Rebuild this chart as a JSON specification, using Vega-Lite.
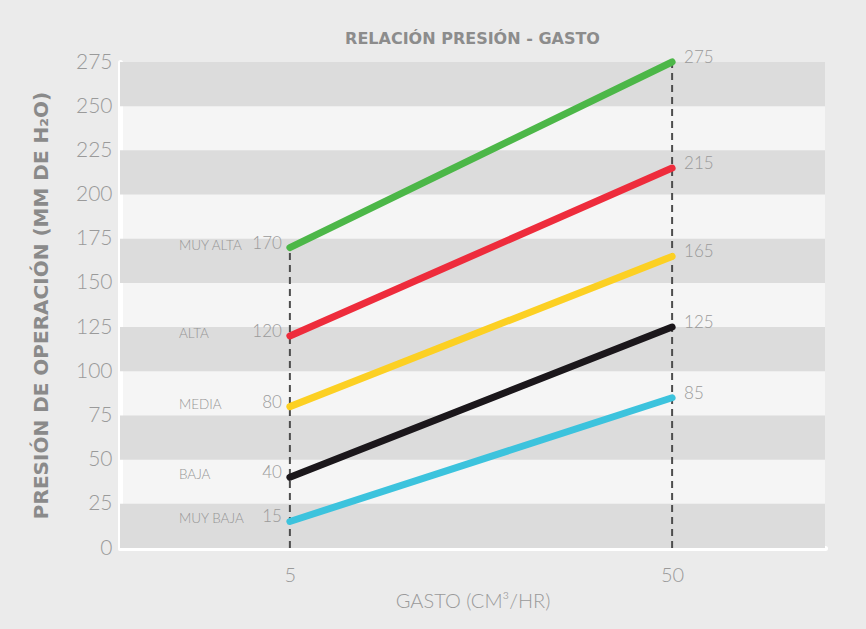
{
  "$schema": "https://vega.github.io/schema/vega-lite/v6.json",
  "width": 705,
  "height": 486,
  "autosize": {"type": "none"},
  "padding": {"left": 120, "top": 62, "right": 41, "bottom": 81},
  "background": "#ebebeb",
  "title": {"text": "RELACIÓN PRESIÓN - GASTO", "fontSize": 16, "fontWeight": "bold", "color": "#8c8c8c", "font": "DejaVu Sans", "anchor": "middle", "offset": 1},
  "config": {
    "view": {"stroke": null, "fill": "#f5f5f5"},
    "axis": {"grid": false, "ticks": false, "domainColor": "#ffffff", "domainWidth": 5, "domainCap": "round", "labelFont": "Lato", "labelFontWeight": 300, "labelColor": "#9a9a9a", "titleColor": "#8a8a8a"}
  },
  "datasets": {
    "bandas": [
      {"desde": 0, "hasta": 25},
      {"desde": 50, "hasta": 75},
      {"desde": 100, "hasta": 125},
      {"desde": 150, "hasta": 175},
      {"desde": 200, "hasta": 225},
      {"desde": 250, "hasta": 275}
    ],
    "guias": [
      {"gasto": 5, "base": 0, "tope": 170},
      {"gasto": 50, "base": 0, "tope": 277}
    ],
    "series": [
      {"serie": "MUY ALTA", "gasto": 5, "presion": 170},
      {"serie": "MUY ALTA", "gasto": 50, "presion": 275},
      {"serie": "ALTA", "gasto": 5, "presion": 120},
      {"serie": "ALTA", "gasto": 50, "presion": 215},
      {"serie": "MEDIA", "gasto": 5, "presion": 80},
      {"serie": "MEDIA", "gasto": 50, "presion": 165},
      {"serie": "BAJA", "gasto": 5, "presion": 40},
      {"serie": "BAJA", "gasto": 50, "presion": 125},
      {"serie": "MUY BAJA", "gasto": 5, "presion": 15},
      {"serie": "MUY BAJA", "gasto": 50, "presion": 85}
    ]
  },
  "layer": [
    {
      "data": {"name": "bandas"},
      "mark": {"type": "rect", "color": "#dcdcdc"},
      "encoding": {
        "y": {"field": "desde", "type": "quantitative"},
        "y2": {"field": "hasta"}
      }
    },
    {
      "data": {"name": "guias"},
      "mark": {"type": "rule", "color": "#4d4d4d", "strokeWidth": 2, "strokeDash": [7, 5]},
      "encoding": {
        "x": {"field": "gasto", "type": "quantitative"},
        "y": {"field": "base", "type": "quantitative"},
        "y2": {"field": "tope"}
      }
    },
    {
      "data": {"name": "series"},
      "mark": {"type": "line", "strokeWidth": 7, "strokeCap": "round"},
      "encoding": {
        "x": {
          "field": "gasto", "type": "quantitative",
          "scale": {"domain": [-15, 68], "nice": false, "zero": false},
          "axis": {"values": [5, 50], "labelFontSize": 20, "labelPadding": 17, "title": "GASTO (CM³/HR)", "titleFont": "Lato", "titleFontWeight": 300, "titleFontSize": 20, "titleColor": "#9a9a9a", "titlePadding": 6}
        },
        "y": {
          "field": "presion", "type": "quantitative",
          "scale": {"domain": [0, 275], "nice": false},
          "axis": {"values": [0, 25, 50, 75, 100, 125, 150, 175, 200, 225, 250, 275], "labelFontSize": 21, "labelPadding": 8, "title": "PRESIÓN DE OPERACIÓN (MM DE H₂O)", "titleFont": "DejaVu Sans", "titleFontWeight": "bold", "titleFontSize": 20, "titlePadding": 24}
        },
        "color": {
          "field": "serie", "type": "nominal", "legend": null,
          "scale": {"domain": ["MUY ALTA", "ALTA", "MEDIA", "BAJA", "MUY BAJA"], "range": ["#4cb748", "#ee2c3c", "#fcd023", "#1b171b", "#3cc3dd"]}
        }
      }
    },
    {
      "data": {"name": "series"},
      "transform": [{"filter": "datum.gasto == 5"}],
      "mark": {"type": "text", "align": "left", "baseline": "middle", "dx": -111, "dy": -2, "font": "Lato", "fontWeight": 300, "fontSize": 13.5, "color": "#959595"},
      "encoding": {
        "x": {"field": "gasto", "type": "quantitative"},
        "y": {"field": "presion", "type": "quantitative"},
        "text": {"field": "serie"}
      }
    },
    {
      "data": {"name": "series"},
      "transform": [{"filter": "datum.gasto == 5"}],
      "mark": {"type": "text", "align": "right", "baseline": "middle", "dx": -8, "dy": -4, "font": "Lato", "fontWeight": 300, "fontSize": 17, "color": "#9a9a9a"},
      "encoding": {
        "x": {"field": "gasto", "type": "quantitative"},
        "y": {"field": "presion", "type": "quantitative"},
        "text": {"field": "presion"}
      }
    },
    {
      "data": {"name": "series"},
      "transform": [{"filter": "datum.gasto == 50"}],
      "mark": {"type": "text", "align": "left", "baseline": "middle", "dx": 12, "dy": -4, "font": "Lato", "fontWeight": 300, "fontSize": 17, "color": "#9a9a9a"},
      "encoding": {
        "x": {"field": "gasto", "type": "quantitative"},
        "y": {"field": "presion", "type": "quantitative"},
        "text": {"field": "presion"}
      }
    }
  ]
}
